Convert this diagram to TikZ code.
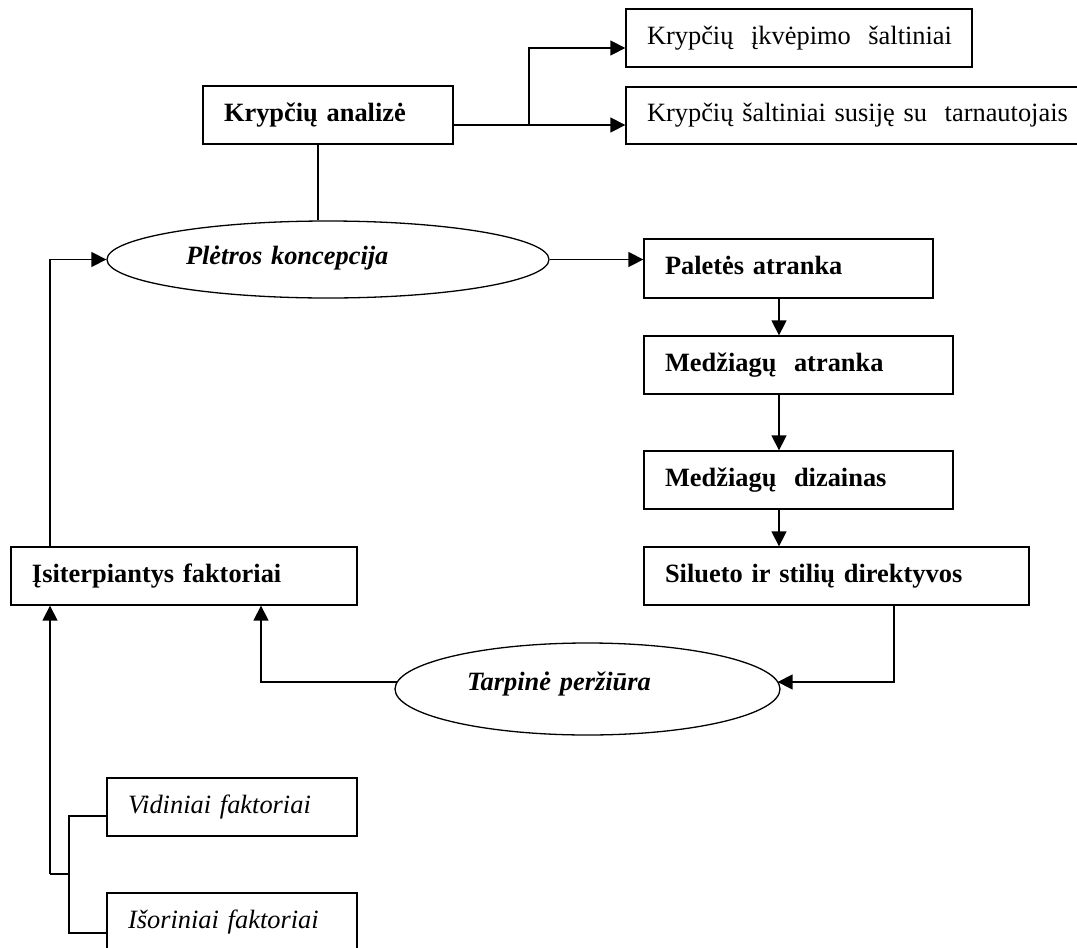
\documentclass[tikz,border=0pt]{standalone}
\usepackage{fontspec}
\setmainfont{Liberation Serif}
\usetikzlibrary{arrows.meta,shapes.geometric}
\begin{document}
\begin{tikzpicture}[x=0.5pt,y=-0.5pt,
  font=\fontsize{13.2}{15}\selectfont,
  every node/.style={line width=0.65pt},
  box/.style={draw, shape=rectangle, inner sep=0pt, align=left,
    text height=9pt, text depth=3pt, minimum height=29pt},
  oval/.style={draw, ellipse, inner sep=0pt, align=left,
    font=\fontsize{13.2}{15}\selectfont\bfseries\itshape},
  link/.style={line width=0.7pt},
  arr/.style={line width=0.7pt, -{Triangle[length=7.5pt,width=7.5pt]}}]

\useasboundingbox[fill=white] (0,0) rectangle (1077,948);

% direction analysis and its sources
\node[box, font=\fontsize{13.2}{15}\selectfont\bfseries,
  minimum width=125pt, text width=104pt] (ka) at (328,115) {Krypčių analizė};
\node[box, minimum width=173pt, text width=152pt] (ks1) at (799,38)
  {\mbox{Krypčių\ \ įkvėpimo\ \ šaltiniai}};
\node[box, minimum width=237pt, minimum height=28.5pt, text width=216pt] (ks2) at (863,115.5)
  {\mbox{Krypčių šaltiniai susiję su\ \ tarnautojais}};

% development concept
\node[oval, minimum width=221pt, minimum height=38.5pt, text width=142pt,
  text height=8.5pt, text depth=3.5pt] (pk) at (328,259.5) {Plėtros koncepcija};

% right-hand chain
\node[box, font=\fontsize{13.2}{15}\selectfont\bfseries,
  minimum width=144.5pt, minimum height=29.5pt, text width=123.5pt] (pa) at (788.5,268.5) {Paletės atranka};
\node[box, font=\fontsize{13.2}{15}\selectfont\bfseries,
  minimum width=154.5pt, text width=133.5pt] (ma) at (798.5,365) {Medžiagų\ \ atranka};
\node[box, font=\fontsize{13.2}{15}\selectfont\bfseries,
  minimum width=154.5pt, text width=133.5pt] (md) at (798.5,480) {Medžiagų\ \ dizainas};
\node[box, font=\fontsize{13.2}{15}\selectfont\bfseries,
  minimum width=192.5pt, text width=171.5pt] (sd) at (836.5,576) {Silueto ir stilių direktyvos};

% interim review
\node[oval, minimum width=192.5pt, minimum height=46pt, text width=120.5pt,
  text height=7pt, text depth=6pt] (tp) at (587.5,689) {Tarpinė peržiūra};

% intervening factors
\node[box, font=\fontsize{13.2}{15}\selectfont\bfseries,
  minimum width=173pt, text width=152pt] (if) at (184,576) {Įsiterpiantys faktoriai};
\node[box, font=\fontsize{13.2}{15}\selectfont\itshape,
  minimum width=125pt, text width=104pt] (vf) at (232,807) {Vidiniai faktoriai};
\node[box, font=\fontsize{13.2}{15}\selectfont\itshape,
  minimum width=125pt, text width=104pt] (of) at (232,922) {Išoriniai faktoriai};

% helper coordinates for the routing
\coordinate (jn) at (529,125);
\coordinate (a1) at (0,48);
\coordinate (dx) at (318,0);
\coordinate (ax) at (779,0);
\coordinate (bx) at (894,0);
\coordinate (cx) at (261,0);
\coordinate (lx) at (50,0);
\coordinate (k) at (50,874);
\coordinate (k2) at (69,874);
\coordinate (te) at ([xshift=-1.5pt,yshift=3.5pt]tp.east);
\coordinate (tw) at ([xshift=1.5pt,yshift=3.5pt]tp.west);
\coordinate (v1) at ([yshift=-4.5pt]vf.west);
\coordinate (o1) at ([yshift=-5.5pt]of.west);

% connectors
\draw[link] (ka.east |- jn) -- (jn);
\draw[arr] (jn) |- (ks1.west |- a1);
\draw[arr] (jn) -- (ks2.west |- jn);
\draw[link] (ka.south -| dx) -- (pk.north -| dx);
\draw[arr] (pk.east) -- (pk.east -| pa.west);
\draw[arr] (pa.south -| ax) -- (ma.north -| ax);
\draw[arr] (ma.south -| ax) -- (md.north -| ax);
\draw[arr] (md.south -| ax) -- (sd.north -| ax);
\draw[arr] (sd.south -| bx) |- (te);
\draw[arr] (tw) -| (if.south -| cx);
\draw[arr] (if.north -| lx) |- (pk.west);
\draw[arr] (k) -- (if.south -| lx);
\draw[link] (k) -- (k2);
\draw[link] (v1) -| (k2) |- (o1);
\end{tikzpicture}
\end{document}
